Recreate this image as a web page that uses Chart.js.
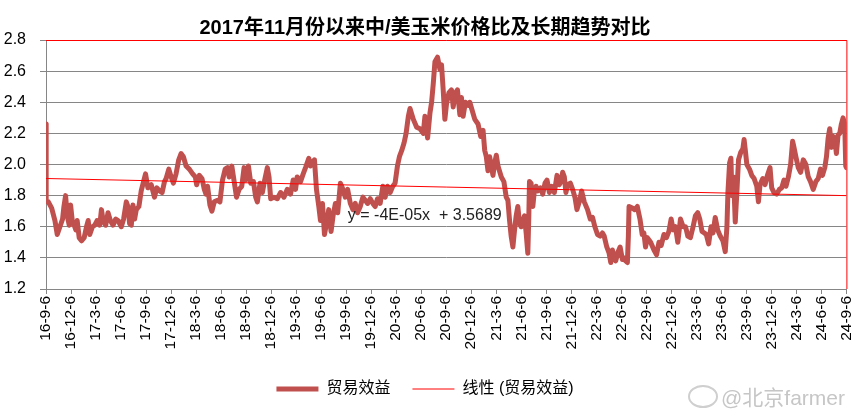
<!DOCTYPE html>
<html><head><meta charset="utf-8">
<script src="https://cdn.jsdelivr.net/npm/chart.js@4/dist/chart.umd.min.js"></script>
<style>
html,body{margin:0;padding:0;background:#fff;}
#wrap{position:relative;width:867px;height:419px;}
#wm{position:absolute;left:721px;top:381px;font:21px "Liberation Sans","Noto Sans CJK SC",sans-serif;color:#c6c6c6;letter-spacing:0px;}
#logo{position:absolute;left:688px;top:385px;width:26px;height:19px;border:2px solid #cfcfcf;border-radius:50%;}
</style></head><body>
<div id="wrap"><canvas id="c" width="867" height="419"></canvas><div id="logo"></div><div id="wm">@北京farmer</div></div>
<script>
// x: months after 2016-09-06; y: China/US corn price ratio
const monthOffset = [0,0.02,0.28,0.68,1.07,1.35,1.67,1.99,2.15,2.35,2.55,2.79,2.95,3.15,3.38,3.58,3.74,3.98,4.26,4.58,4.86,5.06,5.25,5.57,5.85,6.13,6.45,6.65,6.85,7.16,7.44,7.72,8.04,8.36,8.64,9.03,9.31,9.63,9.83,10.03,10.23,10.43,10.63,10.83,11.14,11.42,11.70,11.94,12.22,12.62,13.01,13.29,13.61,13.93,14.21,14.41,14.73,15.01,15.28,15.60,15.92,16.20,16.48,16.80,17.19,17.59,17.91,18.07,18.39,18.71,18.99,19.19,19.38,19.66,19.90,20.18,20.58,20.86,21.17,21.49,21.77,21.97,22.29,22.57,22.85,23.16,23.48,23.76,23.96,24.28,24.56,24.88,25.15,25.35,25.67,25.95,26.23,26.55,26.75,26.95,27.34,27.74,28.14,28.54,28.93,29.33,29.65,29.93,30.13,30.53,30.85,31.13,31.52,31.72,31.92,32.20,32.44,32.72,32.92,33.16,33.40,33.64,33.91,34.19,34.43,34.71,34.99,35.31,35.62,35.90,36.18,36.50,36.81,37.09,37.37,37.69,38.01,38.29,38.57,38.89,39.20,39.48,39.76,40.08,40.40,40.68,40.96,41.28,41.59,41.87,42.15,42.39,42.67,42.95,43.19,43.46,43.66,44.06,44.46,44.86,45.25,45.45,45.77,46.05,46.25,46.45,46.65,46.96,47.25,47.44,47.64,47.84,48.04,48.32,48.63,48.84,49.11,49.35,49.64,49.83,50.03,50.30,50.63,50.83,51.10,51.43,51.82,52.14,52.42,52.62,52.81,53.01,53.21,53.41,53.61,53.81,54.01,54.21,54.61,54.92,55.20,55.40,55.60,55.79,56.00,56.20,56.39,56.59,56.80,56.99,57.19,57.39,57.59,57.79,57.91,57.99,58.18,58.39,58.59,58.78,58.98,59.31,59.58,59.85,60.09,60.38,60.65,60.97,61.29,61.57,61.76,61.97,62.17,62.36,62.56,62.89,63.16,63.44,63.68,63.96,64.24,64.56,64.95,65.28,65.55,65.83,66.15,66.47,66.74,66.95,67.26,67.54,67.74,67.94,68.14,68.33,68.62,68.86,69.13,69.33,69.53,69.73,69.85,69.93,70.33,70.60,70.92,71.24,71.51,71.71,71.91,72.12,72.52,72.92,73.23,73.52,73.79,74.11,74.42,74.71,74.98,75.22,75.50,75.78,76.10,76.42,76.71,76.98,77.29,77.61,77.89,78.17,78.41,78.68,78.96,79.20,79.48,79.76,80.00,80.27,80.56,80.87,81.19,81.47,81.67,81.79,81.99,82.15,82.27,82.47,82.67,82.86,83.06,83.34,83.58,83.73,83.90,84.06,84.38,84.65,84.93,85.25,85.45,85.64,85.97,86.24,86.53,86.84,87.04,87.32,87.64,87.96,88.24,88.52,88.75,89.04,89.31,89.55,89.71,89.94,90.23,90.51,90.83,91.14,91.43,91.70,92.02,92.34,92.62,92.89,93.13,93.41,93.61,93.81,94.00,94.21,94.41,94.60,94.80,95.00,95.20,95.40,95.60,95.80,95.92,96.00];
const ratio = [2.26,1.76,1.76,1.72,1.64,1.55,1.60,1.65,1.73,1.80,1.67,1.61,1.74,1.64,1.61,1.58,1.64,1.53,1.51,1.53,1.60,1.64,1.55,1.60,1.61,1.64,1.61,1.71,1.64,1.61,1.69,1.64,1.61,1.65,1.64,1.60,1.65,1.76,1.73,1.62,1.61,1.74,1.65,1.71,1.73,1.83,1.89,1.94,1.85,1.87,1.79,1.85,1.83,1.82,1.89,1.91,1.97,1.92,1.88,1.94,2.03,2.07,2.05,1.99,1.97,1.94,1.92,1.87,1.93,1.91,1.84,1.81,1.86,1.74,1.70,1.76,1.77,1.76,1.90,1.97,1.98,1.92,1.99,1.89,1.79,1.84,1.86,1.98,1.90,1.99,1.88,1.89,1.79,1.76,1.88,1.82,1.90,1.98,1.92,1.78,1.79,1.78,1.82,1.79,1.84,1.81,1.90,1.84,1.92,1.89,1.94,1.98,2.04,1.99,2.01,2.03,1.84,1.73,1.64,1.75,1.55,1.62,1.71,1.57,1.67,1.75,1.69,1.88,1.84,1.79,1.84,1.75,1.71,1.75,1.69,1.73,1.79,1.77,1.75,1.78,1.75,1.73,1.78,1.75,1.86,1.79,1.86,1.82,1.86,1.88,1.99,2.05,2.09,2.14,2.20,2.31,2.36,2.29,2.24,2.23,2.20,2.31,2.17,2.33,2.40,2.52,2.66,2.69,2.61,2.64,2.48,2.29,2.39,2.46,2.48,2.37,2.46,2.48,2.32,2.43,2.31,2.40,2.38,2.40,2.35,2.29,2.26,2.18,2.22,2.09,2.05,1.96,2.05,1.99,1.93,2.01,2.06,1.99,1.92,1.89,1.79,1.77,1.64,1.54,1.47,1.58,1.67,1.73,1.62,1.60,1.64,1.67,1.56,1.43,1.67,1.89,1.88,1.73,1.84,1.86,1.83,1.85,1.81,1.88,1.90,1.82,1.86,1.82,1.93,1.87,1.89,1.95,1.92,1.82,1.87,1.88,1.84,1.79,1.71,1.76,1.83,1.76,1.71,1.65,1.66,1.60,1.55,1.54,1.56,1.54,1.47,1.43,1.37,1.45,1.41,1.38,1.44,1.47,1.39,1.40,1.38,1.37,1.54,1.73,1.72,1.71,1.73,1.65,1.55,1.56,1.47,1.53,1.50,1.45,1.42,1.50,1.48,1.55,1.53,1.57,1.65,1.58,1.60,1.50,1.65,1.60,1.60,1.54,1.53,1.60,1.67,1.69,1.65,1.57,1.56,1.55,1.49,1.60,1.56,1.66,1.58,1.54,1.51,1.44,1.60,1.82,2.01,2.04,1.80,1.92,1.63,1.82,2.03,2.08,2.10,2.16,2.08,2.00,1.97,1.93,1.91,1.86,1.76,1.87,1.91,1.87,1.93,1.98,1.85,1.82,1.81,1.84,1.85,1.90,1.86,1.92,2.00,2.15,2.11,2.05,1.98,1.95,2.03,2.00,1.92,1.89,1.84,1.89,1.91,1.97,1.93,1.98,2.05,2.17,2.23,2.11,2.18,2.17,2.07,2.19,2.20,2.26,2.30,2.26,1.99,1.98];
const tickLabels = ['16-9-6','16-12-6','17-3-6','17-6-6','17-9-6','17-12-6','18-3-6','18-6-6','18-9-6','18-12-6','19-3-6','19-6-6','19-9-6','19-12-6','20-3-6','20-6-6','20-9-6','20-12-6','21-3-6','21-6-6','21-9-6','21-12-6','22-3-6','22-6-6','22-9-6','22-12-6','23-3-6','23-6-6','23-9-6','23-12-6','24-3-6','24-6-6','24-9-6'];
const trendMonths = [0, 96];
const trendValues = [1.91, 1.80];
const seriesName = '贸易效益';
const trendName = '线性 (贸易效益)';
const titleText = '2017年11月份以来中/美玉米价格比及长期趋势对比';
const equationText = 'y = -4E-05x  + 3.5689';
const equationAnchor = {x: 36.2, y: 1.669};

const FONT = '"Liberation Sans","Noto Sans CJK SC",Arial,sans-serif';

const series = monthOffset.map((m, i) => ({x: m, y: ratio[i]}));
const trend = trendMonths.map((m, i) => ({x: m, y: trendValues[i]}));

const framePlugin = {
  id: 'frame',
  afterDatasetsDraw(chart) {
    const {ctx, chartArea: a, scales} = chart;
    ctx.save();
    ctx.strokeStyle = '#FF0000';
    ctx.lineWidth = 1;
    ctx.beginPath();
    ctx.moveTo(a.left, a.top + 0.5);
    ctx.lineTo(a.right + 0.5, a.top + 0.5);
    ctx.lineTo(a.right + 0.5, a.bottom);
    ctx.stroke();
    ctx.fillStyle = '#222';
    ctx.font = '16px ' + FONT;
    ctx.textBaseline = 'middle';
    ctx.textAlign = 'left';
    ctx.fillText(equationText, scales.x.getPixelForValue(equationAnchor.x), scales.y.getPixelForValue(equationAnchor.y));
    ctx.restore();
  }
};

new Chart(document.getElementById('c'), {
  type: 'line',
  data: {
    datasets: [
      {label: seriesName, data: series, borderColor: '#C0504D', backgroundColor: '#C0504D', borderWidth: 5, pointRadius: 0, tension: 0, order: 2, borderJoinStyle: 'round', borderCapStyle: 'round'},
      {label: trendName, data: trend, borderColor: '#FF0000', backgroundColor: '#FF0000', borderWidth: 1, pointRadius: 0, tension: 0, order: 1}
    ]
  },
  options: {
    responsive: false,
    animation: false,
    devicePixelRatio: 1,
    layout: {padding: {left: 0, right: 17, top: 0, bottom: 12}},
    plugins: {
      title: {display: true, text: titleText, color: '#000', font: {family: FONT, size: 20, weight: 'bold'}, padding: {top: 16, bottom: 0}},
      legend: {
        position: 'bottom',
        labels: {usePointStyle: true, pointStyle: 'line', pointStyleWidth: 42, color: '#000', font: {family: FONT, size: 16}, padding: 22,
          sort: (a, b) => a.datasetIndex - b.datasetIndex}
      },
      tooltip: {enabled: false}
    },
    scales: {
      x: {
        type: 'linear', min: 0, max: 96,
        afterFit(s) { s.height = 70; },
        ticks: {stepSize: 3, autoSkip: false, maxRotation: 90, minRotation: 90, padding: 2, color: '#000', font: {family: FONT, size: 15.5},
          callback: (v) => tickLabels[Math.round(v / 3)]},
        grid: {drawOnChartArea: false, drawTicks: true, tickLength: 5, color: '#868686'},
        border: {color: '#868686'}
      },
      y: {
        min: 1.2, max: 2.8,
        afterFit(s) { s.width = 46; },
        ticks: {stepSize: 0.2, padding: 14, color: '#000', font: {family: FONT, size: 16}, callback: (v) => v.toFixed(1)},
        grid: {color: '#868686', tickLength: 6},
        border: {color: '#868686'}
      }
    }
  },
  plugins: [framePlugin]
});
</script>
</body></html>
